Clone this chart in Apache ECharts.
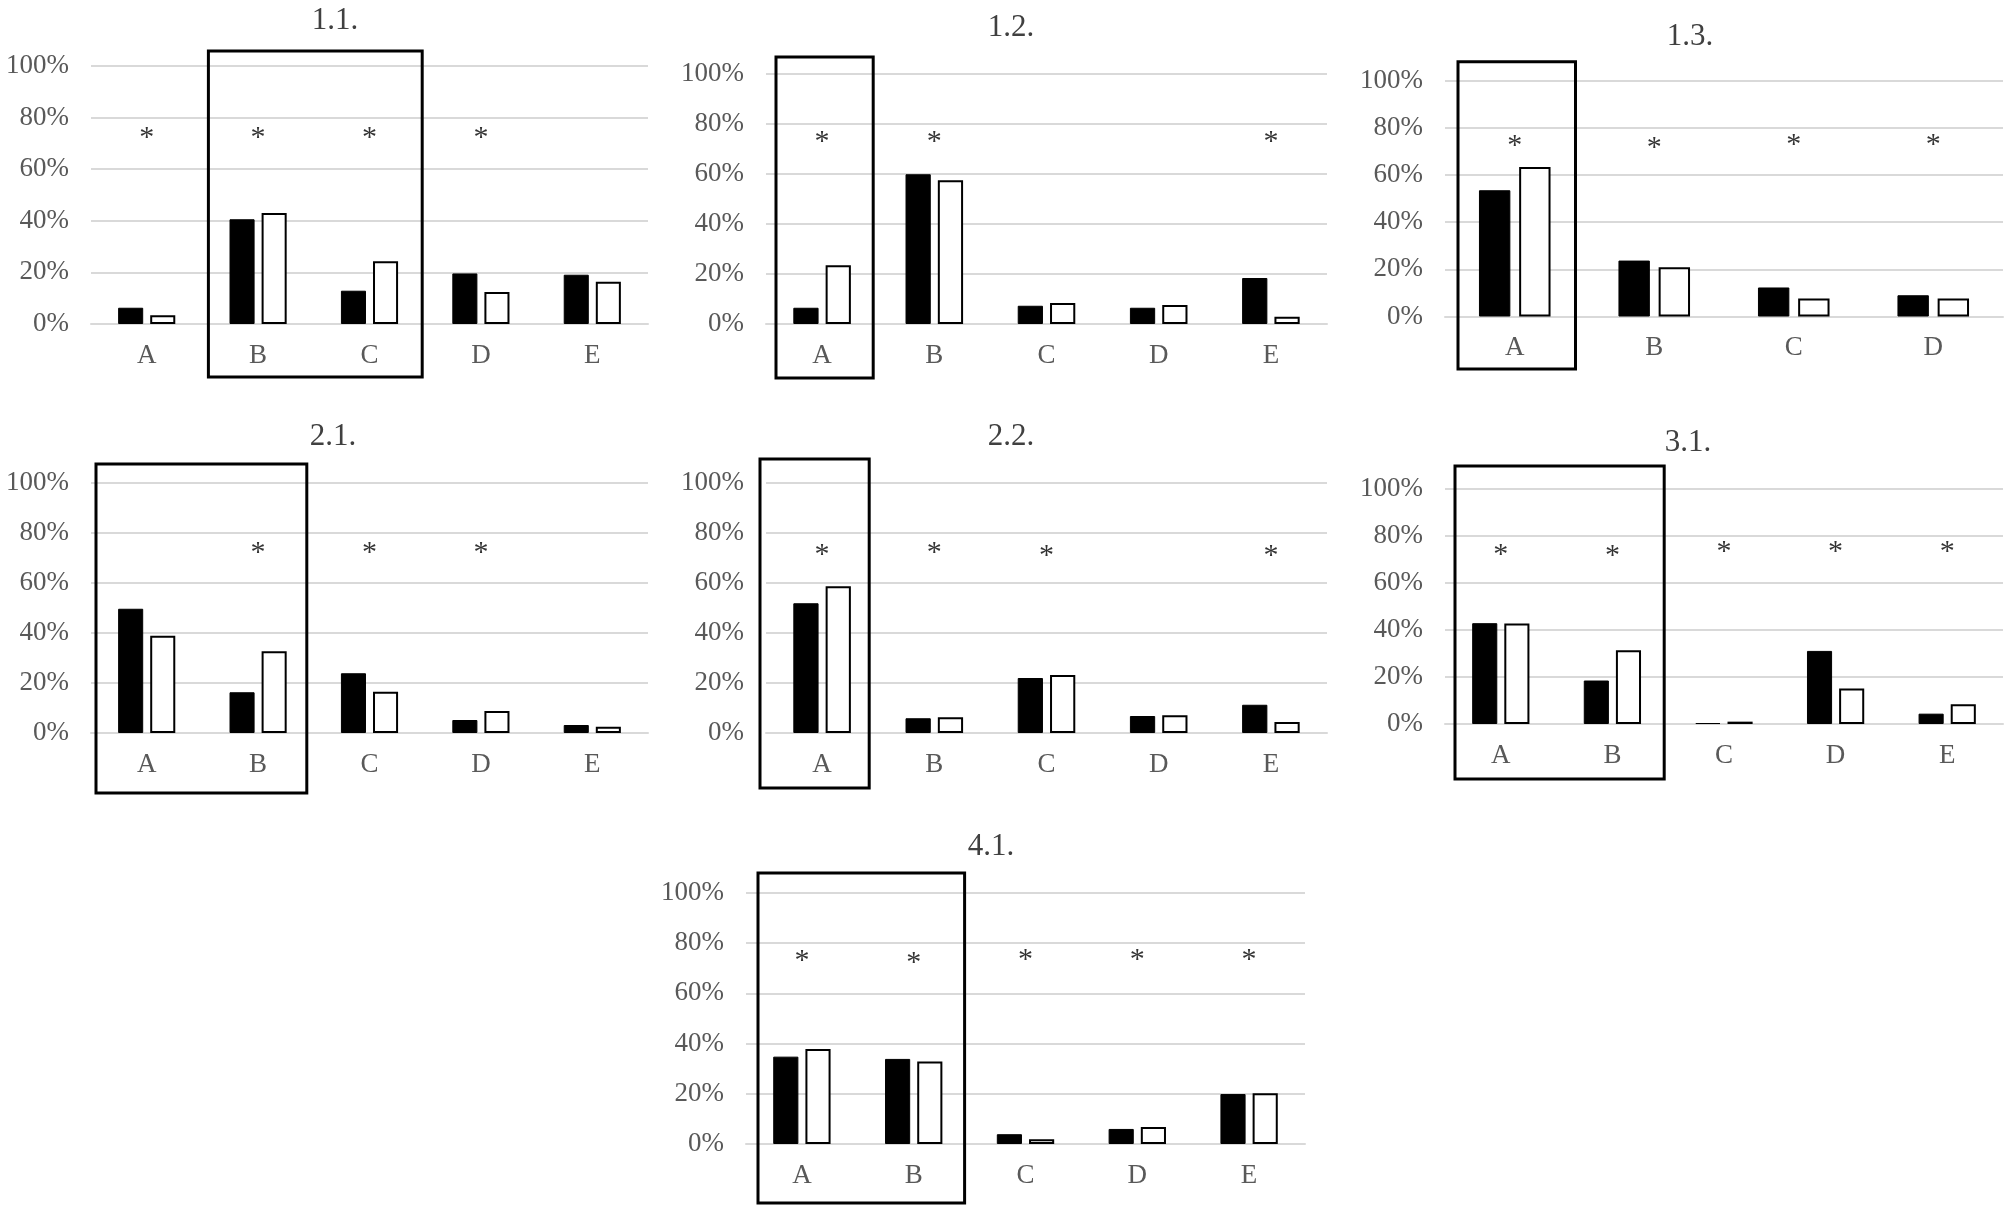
<!DOCTYPE html>
<html><head><meta charset="utf-8">
<script src="https://cdn.jsdelivr.net/npm/echarts@6/dist/echarts.min.js"></script>
<style>html,body{margin:0;padding:0;background:#fff}#c{width:2005px;height:1213px}</style>
</head><body><div id="c"></div>
<script>
// ---------- DATA ----------
const panelTitles = ['1.1.', '1.2.', '1.3.', '2.1.', '2.2.', '3.1.', '4.1.'];
const categories5 = ['A', 'B', 'C', 'D', 'E'];
const categories4 = ['A', 'B', 'C', 'D'];
const yTicks = [0, 20, 40, 60, 80, 100];

const black_1_1 = [6.3, 40.6, 12.9, 19.6, 19.1];
const white_1_1 = [3.4, 43.0, 24.3, 12.4, 16.4];
const star_1_1  = [74.5, 74.5, 74.5, 74.5, null];
const box_1_1   = [1, 2];

const black_1_2 = [6.5, 59.9, 7.3, 6.5, 18.4];
const white_1_2 = [23.5, 57.5, 8.4, 7.6, 2.9];
const star_1_2  = [75, 75, null, null, 75];
const box_1_2   = [0, 0];

const black_1_3 = [53.5, 23.7, 12.3, 9.0];
const white_1_3 = [63.3, 20.9, 7.6, 7.6];
const star_1_3  = [74.9, 73.7, 75.1, 75.1];
const box_1_3   = [0, 0];

const black_2_1 = [49.7, 16.3, 23.9, 5.2, 3.2];
const white_2_1 = [38.9, 32.7, 16.5, 8.8, 2.5];
const star_2_1  = [null, 74.5, 74.5, 74.5, null];
const box_2_1   = [0, 1];

const black_2_2 = [51.9, 5.9, 22.0, 6.8, 11.3];
const white_2_2 = [58.7, 6.3, 23.2, 7.1, 4.4];
const star_2_2  = [73.7, 74.4, 73.1, null, 73.1];
const box_2_2   = [0, 0];

const black_3_1 = [42.9, 18.5, 0.4, 31.1, 4.4];
const white_3_1 = [42.8, 31.4, 1.0, 15.1, 8.4];
const star_3_1  = [74.4, 73.9, 75.6, 75.6, 75.6];
const box_3_1   = [0, 1];

const black_4_1 = [34.8, 33.9, 3.9, 6.0, 19.9];
const white_4_1 = [37.8, 32.9, 1.9, 6.8, 20.2];
const star_4_1  = [75.3, 74.6, 75.7, 75.7, 75.7];
const box_4_1   = [0, 1];

const panels = [
  {cats: categories5, black: black_1_1, white: white_1_1, star: star_1_1, box: box_1_1},
  {cats: categories5, black: black_1_2, white: white_1_2, star: star_1_2, box: box_1_2},
  {cats: categories4, black: black_1_3, white: white_1_3, star: star_1_3, box: box_1_3},
  {cats: categories5, black: black_2_1, white: white_2_1, star: star_2_1, box: box_2_1},
  {cats: categories5, black: black_2_2, white: white_2_2, star: star_2_2, box: box_2_2},
  {cats: categories5, black: black_3_1, white: white_3_1, star: star_3_1, box: box_3_1},
  {cats: categories5, black: black_4_1, white: white_4_1, star: star_4_1, box: box_4_1}
];

// ---------- LAYOUT / STYLE ----------
const layout = [
  {grid: [91, 66, 557, 258],   title: [335, 21],  boxTop: 105.8, boxBottom: -20.5, inL: 6,  inR: 3},
  {grid: [766, 74, 561, 250],  title: [1011, 28], boxTop: 106.8, boxBottom: -21.6, inL: 10, inR: 5},
  {grid: [1445, 80.5, 558, 236], title: [1690, 37], boxTop: 107.9, boxBottom: -22.2, inL: 13, inR: 9},
  {grid: [91, 483, 557, 250],  title: [333, 437], boxTop: 107.6, boxBottom: -24.0, inL: 5,  inR: 7},
  {grid: [766, 483, 561, 250], title: [1011, 437], boxTop: 109.6, boxBottom: -22.0, inL: -6, inR: 9},
  {grid: [1445, 489, 558, 235], title: [1688, 443], boxTop: 109.8, boxBottom: -23.4, inL: 10, inR: 4},
  {grid: [746, 893, 559, 251], title: [991, 847], boxTop: 108.0, boxBottom: -23.5, inL: 12, inR: 5}
];
const FONT = '"Liberation Serif", "Times New Roman", serif';
const GRAY = '#595959';
const GRID_LINE = '#d9d9d9';

const grids = [], xAxes = [], yAxes = [], series = [], graphics = [];
panels.forEach((p, i) => {
  const L = layout[i];
  grids.push({left: L.grid[0], top: L.grid[1], width: L.grid[2], height: L.grid[3],
    containLabel: false, outerBoundsMode: 'none'});
  xAxes.push({type: 'category', gridIndex: i, data: p.cats,
    axisLine: {show: true, lineStyle: {color: GRID_LINE, width: 2}},
    axisTick: {show: false},
    axisLabel: {color: GRAY, fontFamily: FONT, fontSize: 27, margin: 18}});
  yAxes.push({type: 'value', gridIndex: i, min: yTicks[0], max: yTicks[yTicks.length - 1], interval: 20,
    axisLine: {show: false}, axisTick: {show: false},
    splitLine: {show: true, lineStyle: {color: GRID_LINE, width: 2}},
    axisLabel: {color: GRAY, fontFamily: FONT, fontSize: 27, margin: 22, formatter: '{value}%'}});
  series.push({type: 'bar', xAxisIndex: i, yAxisIndex: i, data: p.black,
    barWidth: '22.5%', barGap: '28%',
    itemStyle: {color: '#000', borderColor: '#000', borderWidth: 1}});
  series.push({type: 'bar', xAxisIndex: i, yAxisIndex: i, data: p.white,
    barWidth: '22.5%', barGap: '28%',
    itemStyle: {color: '#fff', borderColor: '#000', borderWidth: 2}});
  const starData = [];
  p.star.forEach((v, k) => { if (v !== null) starData.push([k, v]); });
  series.push({type: 'scatter', xAxisIndex: i, yAxisIndex: i, data: starData,
    symbolSize: 2, itemStyle: {color: 'rgba(0,0,0,0)'}, z: 5,
    label: {show: true, position: 'inside', formatter: '*', color: '#000',
      fontFamily: FONT, fontSize: 30, offset: [0, 6]}});
  series.push({type: 'custom', xAxisIndex: i, yAxisIndex: i, clip: false, z: 10,
    data: [[p.box[0], p.box[1]]],
    renderItem: (params, api) => {
      const s = api.value(0), e = api.value(1);
      const band = api.size([1, 0])[0];
      const p1 = api.coord([s, L.boxTop]);
      const p2 = api.coord([e, L.boxBottom]);
      const x1 = p1[0] - band / 2 + L.inL;
      const x2 = p2[0] + band / 2 - L.inR;
      return {type: 'rect', shape: {x: x1, y: p1[1], width: x2 - x1, height: p2[1] - p1[1]},
        style: {fill: 'none', stroke: '#000', lineWidth: 3}};
    }});
  graphics.push({type: 'text', x: L.title[0], y: L.title[1], silent: true,
    style: {text: panelTitles[i], fill: '#404040', font: '31px ' + FONT,
      textAlign: 'center', textVerticalAlign: 'middle'}});
});

const chart = echarts.init(document.getElementById('c'), null, {renderer: 'canvas'});
chart.setOption({
  animation: false,
  backgroundColor: '#fff',
  grid: grids, xAxis: xAxes, yAxis: yAxes, series: series,
  graphic: graphics
});
</script></body></html>
